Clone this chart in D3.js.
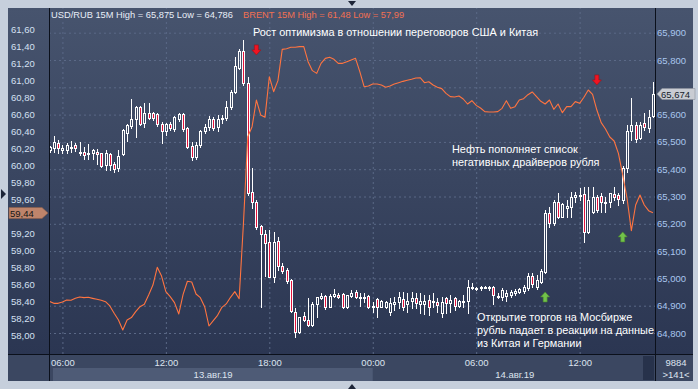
<!DOCTYPE html>
<html>
<head>
<meta charset="utf-8">
<script src="https://cdn.jsdelivr.net/npm/d3@7"></script>
<style>
  html, body { margin: 0; padding: 0; background: #c6cfdc; }
  svg { display: block; font-family: "Liberation Sans", Arial, sans-serif; }
</style>
</head>
<body>
<svg id="chart" width="698" height="389"></svg>
<script>
// ----- Data (15-minute bars, 13.08.2019 05:15 .. 14.08.2019 16:15) -----
const START = new Date(2019, 7, 13, 5, 15);
const STEP_MIN = 15;

const usdOpen = [
  65.469, 65.476, 65.495, 65.469, 65.470, 65.479, 65.487, 65.461, 65.462, 65.454,
  65.458, 65.462, 65.458, 65.414, 65.454, 65.419, 65.403, 65.457, 65.534, 65.558,
  65.583, 65.627, 65.568, 65.605, 65.605, 65.602, 65.566, 65.539, 65.564, 65.546,
  65.583, 65.602, 65.550, 65.485, 65.446, 65.489, 65.540, 65.553, 65.585, 65.553,
  65.583, 65.586, 65.627, 65.684, 65.770, 65.834, 65.715, 65.315, 65.279, 65.191,
  65.161, 65.135, 65.006, 65.138, 65.047, 65.031, 64.994, 64.878, 64.805, 64.864,
  64.848, 64.829, 64.906, 64.929, 64.937, 64.896, 64.935, 64.939, 64.943, 64.894,
  64.935, 64.949, 64.933, 64.931, 64.937, 64.896, 64.925, 64.896, 64.897, 64.878,
  64.906, 64.915, 64.923, 64.906, 64.917, 64.927, 64.906, 64.906, 64.921, 64.912,
  64.915, 64.872, 64.927, 64.909, 64.927, 64.899, 64.917, 64.918, 64.964, 64.966,
  64.964, 64.970, 64.970, 64.970, 64.933, 64.933, 64.935, 64.940, 64.948, 64.952,
  64.955, 64.964, 65.009, 64.970, 64.988, 65.025, 65.241, 65.202, 65.281, 65.226,
  65.257, 65.263, 65.297, 65.304, 65.308, 65.171, 65.244, 65.299, 65.302, 65.281,
  65.281, 65.308, 65.304, 65.287, 65.403, 65.541, 65.562, 65.513, 65.570, 65.550,
  65.595
];
const usdHigh = [
  65.485, 65.522, 65.507, 65.489, 65.495, 65.502, 65.495, 65.498, 65.480, 65.492,
  65.475, 65.473, 65.461, 65.470, 65.458, 65.428, 65.469, 65.547, 65.566, 65.656,
  65.632, 65.632, 65.644, 65.644, 65.611, 65.607, 65.573, 65.568, 65.574, 65.595,
  65.607, 65.607, 65.556, 65.501, 65.501, 65.542, 65.566, 65.596, 65.590, 65.597,
  65.599, 65.650, 65.690, 65.812, 65.839, 65.875, 65.739, 65.403, 65.287, 65.195,
  65.177, 65.177, 65.171, 65.150, 65.056, 65.037, 64.997, 64.890, 64.860, 64.876,
  64.927, 64.915, 64.933, 64.945, 64.939, 64.943, 64.960, 64.945, 64.945, 64.941,
  64.957, 64.957, 64.948, 64.945, 64.939, 64.915, 64.927, 64.921, 64.918, 64.927,
  64.933, 64.951, 64.951, 64.945, 64.951, 64.945, 64.945, 64.939, 64.939, 64.945,
  64.927, 64.933, 64.933, 64.939, 64.933, 64.921, 64.939, 64.994, 64.982, 64.970,
  64.972, 64.972, 64.972, 64.972, 64.945, 64.966, 64.958, 64.958, 64.962, 64.966,
  64.976, 65.019, 65.019, 65.012, 65.033, 65.251, 65.263, 65.287, 65.312, 65.277,
  65.287, 65.318, 65.318, 65.330, 65.336, 65.336, 65.336, 65.305, 65.312, 65.299,
  65.314, 65.336, 65.312, 65.412, 65.562, 65.660, 65.574, 65.574, 65.605, 65.617,
  65.721
];
const usdLow = [
  65.464, 65.464, 65.458, 65.458, 65.461, 65.464, 65.468, 65.452, 65.439, 65.437,
  65.436, 65.420, 65.407, 65.397, 65.397, 65.389, 65.393, 65.452, 65.505, 65.550,
  65.519, 65.562, 65.556, 65.583, 65.580, 65.559, 65.497, 65.525, 65.544, 65.541,
  65.578, 65.541, 65.478, 65.434, 65.439, 65.483, 65.534, 65.544, 65.544, 65.539,
  65.570, 65.580, 65.622, 65.678, 65.766, 65.708, 65.306, 65.257, 65.180, 64.894,
  65.009, 65.004, 64.988, 65.031, 65.021, 64.982, 64.877, 64.786, 64.801, 64.845,
  64.827, 64.827, 64.860, 64.923, 64.887, 64.894, 64.931, 64.927, 64.892, 64.892,
  64.933, 64.927, 64.899, 64.915, 64.890, 64.878, 64.857, 64.894, 64.890, 64.866,
  64.884, 64.890, 64.884, 64.878, 64.890, 64.890, 64.872, 64.870, 64.866, 64.897,
  64.878, 64.860, 64.872, 64.878, 64.884, 64.894, 64.897, 64.874, 64.960, 64.958,
  64.958, 64.964, 64.958, 64.906, 64.927, 64.921, 64.918, 64.931, 64.940, 64.945,
  64.945, 64.958, 64.970, 64.960, 64.984, 65.021, 65.189, 65.196, 65.220, 65.224,
  65.226, 65.226, 65.281, 65.287, 65.135, 65.165, 65.238, 65.244, 65.244, 65.244,
  65.263, 65.287, 65.269, 65.275, 65.391, 65.507, 65.501, 65.509, 65.544, 65.537,
  65.590
];
const usdClose = [
  65.480, 65.498, 65.478, 65.479, 65.487, 65.480, 65.476, 65.463, 65.451, 65.459,
  65.470, 65.456, 65.412, 65.458, 65.417, 65.402, 65.450, 65.542, 65.561, 65.585,
  65.628, 65.567, 65.605, 65.589, 65.588, 65.564, 65.539, 65.566, 65.550, 65.590,
  65.602, 65.547, 65.483, 65.446, 65.489, 65.540, 65.556, 65.585, 65.550, 65.585,
  65.587, 65.627, 65.684, 65.778, 65.834, 65.715, 65.312, 65.279, 65.187, 65.161,
  65.131, 65.006, 65.135, 65.047, 65.028, 64.992, 64.882, 64.805, 64.857, 64.848,
  64.829, 64.906, 64.933, 64.935, 64.896, 64.937, 64.943, 64.933, 64.894, 64.939,
  64.945, 64.931, 64.931, 64.933, 64.894, 64.899, 64.896, 64.917, 64.915, 64.909,
  64.915, 64.933, 64.894, 64.918, 64.929, 64.911, 64.918, 64.918, 64.897, 64.918,
  64.903, 64.915, 64.911, 64.921, 64.899, 64.918, 64.918, 64.970, 64.970, 64.961,
  64.970, 64.966, 64.964, 64.939, 64.937, 64.958, 64.945, 64.951, 64.955, 64.960,
  64.970, 65.009, 64.979, 64.994, 65.028, 65.241, 65.202, 65.281, 65.226, 65.273,
  65.266, 65.299, 65.305, 65.306, 65.171, 65.287, 65.299, 65.251, 65.281, 65.277,
  65.312, 65.299, 65.290, 65.403, 65.541, 65.562, 65.509, 65.562, 65.556, 65.592,
  65.674
];
const brent = [
  58.397, 58.373, 58.373, 58.389, 58.413, 58.409, 58.432, 58.448, 58.440, 58.444,
  58.432, 58.421, 58.409, 58.393, 58.342, 58.256, 58.177, 58.059, 58.177, 58.205,
  58.275, 58.334, 58.362, 58.472, 58.589, 58.798, 58.695, 58.511, 58.452, 58.381,
  58.248, 58.479, 58.633, 58.625, 58.483, 58.440, 58.334, 58.106, 58.169, 58.232,
  58.326, 58.366, 58.444, 58.511, 58.428, 59.316, 60.337, 60.455, 60.769, 60.593,
  60.565, 61.044, 60.867, 60.997, 61.366, 61.374, 61.390, 61.390, 61.398, 61.398,
  61.221, 61.115, 61.083, 61.201, 61.260, 61.272, 61.249, 61.201, 61.201, 61.221,
  61.240, 61.260, 61.103, 60.926, 60.934, 60.958, 60.958, 60.946, 60.919, 60.934,
  60.958, 60.973, 60.989, 61.001, 61.013, 61.029, 61.032, 60.973, 60.985, 60.946,
  60.919, 60.903, 60.848, 60.809, 60.805, 60.816, 60.781, 60.722, 60.761, 60.706,
  60.675, 60.632, 60.628, 60.628, 60.632, 60.671, 60.761, 60.671, 60.691, 60.769,
  60.785, 60.832, 60.864, 60.809, 60.754, 60.722, 60.769, 60.659, 60.722, 60.620,
  60.691, 60.691, 60.750, 60.730, 60.801, 60.887, 60.836, 60.651, 60.502, 60.428,
  60.333, 60.286, 60.141, 59.886, 59.611, 59.230, 59.532, 59.650, 59.532, 59.465,
  59.440
];

const usdTicks = [65.9, 65.8, 65.7, 65.6, 65.5, 65.4, 65.3, 65.2, 65.1, 65.0, 64.9, 64.8];
const brentTicks = [61.6, 61.4, 61.2, 61.0, 60.8, 60.6, 60.4, 60.2, 60.0, 59.8, 59.6, 59.4,
                    59.2, 59.0, 58.8, 58.6, 58.4, 58.2, 58.0];
const dayLabels = ["13.авг.19", "14.авг.19"];
const headerUsd = "USD/RUB 15M High = 65,875 Low = 64,786";
const headerBrent = "BRENT 15M High = 61,48 Low = 57,99";
const lastUsd = 65.674;
const lastBrent = 59.44;
const barCount = "9884";
const visibleBars = ">141<";

// annotation arrows: bar index + USD/RUB level they sit at
const downArrows = [{ i: 48, v: 65.837 }, { i: 127, v: 65.727 }];
const upArrows = [{ i: 115, v: 64.932 }, { i: 133, v: 65.152 }];

const notes = [
  { x: 253, y: 36, lines: ["Рост оптимизма в отношении переговоров США и Китая"] },
  { x: 452, y: 153, lines: ["Нефть пополняет список", "негативных драйверов рубля"] },
  { x: 477, y: 321, lines: ["Открытие торгов на Мосбирже", "рубль падает в реакции на данные", "из Китая и Германии"] }
];

// ----- Layout -----
const PANEL = { left: 8, top: 8, right: 693, bottom: 381 };
const PLOT = { left: 49, right: 655, top: 8, bottom: 354 };
const fmtComma = (v, d) => v.toFixed(d).replace(".", ",");

const svg = d3.select("#chart");
const defs = svg.append("defs");

const grad = defs.append("linearGradient")
  .attr("id", "bg").attr("x1", 0).attr("y1", 0).attr("x2", 0).attr("y2", 1);
grad.append("stop").attr("offset", "0%").attr("stop-color", "#47546e");
grad.append("stop").attr("offset", "100%").attr("stop-color", "#2b3652");

defs.append("clipPath").attr("id", "plotClip")
  .append("rect")
  .attr("x", PLOT.left + 1).attr("y", PLOT.top)
  .attr("width", PLOT.right - PLOT.left - 1).attr("height", PLOT.bottom - PLOT.top);

// panel background
svg.append("rect")
  .attr("x", PANEL.left).attr("y", PANEL.top)
  .attr("width", PANEL.right - PANEL.left).attr("height", PLOT.bottom - PANEL.top)
  .attr("fill", "url(#bg)");
svg.append("rect")
  .attr("x", PANEL.left).attr("y", PLOT.bottom)
  .attr("width", PANEL.right - PANEL.left).attr("height", PANEL.bottom - PLOT.bottom)
  .attr("fill", "#3b4761");

// ----- Scales -----
const times = usdClose.map((_, i) => d3.timeMinute.offset(START, i * STEP_MIN));
const x = d3.scaleTime()
  .domain([times[0], times[times.length - 1]])
  .range([49.5, 652.9]);

const usdY = d3.scaleLinear().domain([64.8, 65.9]).range([333, 32.7]);
const brentY = d3.scaleLinear().domain([58.0, 61.6]).range([335, 29.5]);

// ----- Grid -----
const gridColor = "#5b6987";
const hGrid = svg.append("g")
  .attr("transform", `translate(${PLOT.left},0)`)
  .call(d3.axisRight(usdY).tickValues(usdTicks).tickSize(PLOT.right - PLOT.left).tickFormat(""));
hGrid.select(".domain").remove();
hGrid.selectAll("line")
  .attr("stroke", gridColor).attr("stroke-dasharray", "2,3");

const hourTicks = x.ticks(d3.timeHour.every(6));
const vGrid = svg.append("g")
  .attr("transform", `translate(0,${PLOT.bottom})`)
  .call(d3.axisBottom(x).tickValues(hourTicks).tickSize(-(PLOT.bottom - PLOT.top)).tickFormat(""));
vGrid.select(".domain").remove();
vGrid.selectAll("line").attr("stroke", gridColor).attr("stroke-dasharray", "2,3");

// ----- Candles (USD/RUB, right scale) -----
const plot = svg.append("g").attr("clip-path", "url(#plotClip)");
const bars = usdClose.map((c, i) => ({
  t: times[i], o: usdOpen[i], h: usdHigh[i], l: usdLow[i], c
}));

plot.append("g").selectAll("g")
  .data(bars)
  .join("g")
  .each(function (d) {
    const g = d3.select(this);
    const cx = Math.round(x(d.t));
    const top = Math.round(usdY(Math.max(d.o, d.c)));
    const bot = Math.round(usdY(Math.min(d.o, d.c)));
    const hi = Math.round(usdY(d.h));
    const lo = Math.round(usdY(d.l));
    if (hi < top) {
      g.append("line").attr("x1", cx + 0.5).attr("x2", cx + 0.5)
        .attr("y1", hi).attr("y2", top).attr("stroke", "#ffffff");
    }
    if (lo > bot) {
      g.append("line").attr("x1", cx + 0.5).attr("x2", cx + 0.5)
        .attr("y1", bot + 1).attr("y2", lo + 1).attr("stroke", "#ffffff");
    }
    g.append("rect")
      .attr("x", cx - 0.5).attr("width", 2)
      .attr("y", top + 0.5).attr("height", Math.max(bot - top, 1))
      .attr("fill", d.c < d.o ? "#e3123c" : "none")
      .attr("stroke", "#ffffff").attr("stroke-width", 1);
  });

// ----- Brent line (left scale) -----
const line = d3.line()
  .x((d, i) => x(times[i]))
  .y(d => brentY(d));

plot.append("path")
  .datum(brent)
  .attr("d", line)
  .attr("fill", "none")
  .attr("stroke", "#ff7440")
  .attr("stroke-width", 1.1)
  .attr("stroke-linejoin", "round");

// ----- Arrows -----
const arrowDown = "M-2,-5 L2,-5 L2,0 L4.5,0 L0,5 L-4.5,0 L-2,0 Z";
const arrowUp = "M-2,5 L2,5 L2,0 L4.5,0 L0,-5 L-4.5,0 L-2,0 Z";
plot.append("g").selectAll("path")
  .data(downArrows).join("path")
  .attr("d", arrowDown)
  .attr("transform", d => `translate(${x(times[d.i])},${usdY(d.v)})`)
  .attr("fill", "#f01422").attr("stroke", "#a0101a").attr("stroke-width", 0.6);
plot.append("g").selectAll("path")
  .data(upArrows).join("path")
  .attr("d", arrowUp)
  .attr("transform", d => `translate(${x(times[d.i])},${usdY(d.v)})`)
  .attr("fill", "#72c24a").attr("stroke", "#4a8a2e").attr("stroke-width", 0.6);

// ----- Header -----
svg.append("text").attr("x", 51).attr("y", 17.5)
  .attr("fill", "#e8eef8").attr("font-size", 9.3).text(headerUsd);
svg.append("text").attr("x", 243).attr("y", 17.5)
  .attr("fill", "#f27052").attr("font-size", 9.3).text(headerBrent);

// ----- Notes -----
const noteG = svg.append("g").attr("fill", "#ffffff").attr("font-size", 10.9);
notes.forEach(n => {
  n.lines.forEach((s, k) => {
    noteG.append("text").attr("x", n.x).attr("y", n.y + k * 13).text(s);
  });
});

// ----- Axes -----
// the last-value tags sit on top of the tick labels they cover
const byTag = brentY(lastBrent);
const uyTag = usdY(lastUsd);

const leftAxis = svg.append("g")
  .attr("transform", "translate(11,0)")
  .call(d3.axisRight(brentY)
    .tickValues(brentTicks.filter(v => Math.abs(brentY(v) - byTag) > 8))
    .tickSize(0).tickPadding(0)
    .tickFormat(d => fmtComma(d, 2)));
leftAxis.select(".domain").remove();
leftAxis.selectAll("text").attr("fill", "#d4e0f2").attr("font-size", 9.5)
  .attr("font-family", "Liberation Sans, Arial, sans-serif");

const rightAxis = svg.append("g")
  .attr("transform", "translate(657,0)")
  .call(d3.axisRight(usdY)
    .tickValues(usdTicks.filter(v => Math.abs(usdY(v) - uyTag) > 8))
    .tickSize(0).tickPadding(0)
    .tickFormat(d => fmtComma(d, 3)));
rightAxis.select(".domain").remove();
rightAxis.selectAll("text").attr("fill", "#a9c6ee").attr("font-size", 9.5)
  .attr("font-family", "Liberation Sans, Arial, sans-serif");

// date band for first day
const dayStarts = [times[0], d3.timeDay.ceil(times[0])];
const dayEnds = [dayStarts[1], times[times.length - 1]];
svg.append("rect")
  .attr("x", 53).attr("y", 368)
  .attr("width", x(dayStarts[1]) - 53).attr("height", 13)
  .attr("fill", "#4e5b76");

const timeAxis = svg.append("g")
  .attr("transform", `translate(0,${PLOT.bottom})`)
  .call(d3.axisBottom(x).tickValues(hourTicks).tickSize(0).tickPadding(5)
    .tickFormat(d3.timeFormat("%H:%M")));
timeAxis.select(".domain").remove();
timeAxis.selectAll("text").attr("fill", "#dde4ef").attr("font-size", 9.5)
  .attr("font-family", "Liberation Sans, Arial, sans-serif");

svg.append("g").selectAll("text")
  .data(dayLabels).join("text")
  .attr("x", (d, k) => (Math.max(x(dayStarts[k]), PLOT.left) + Math.min(x(dayEnds[k]), PLOT.right)) / 2 + 2)
  .attr("y", 377.5)
  .attr("text-anchor", "middle")
  .attr("fill", "#dde4ef").attr("font-size", 9.5)
  .text(d => d);

// scroll thumb
svg.append("rect").attr("x", 643).attr("y", 356).attr("width", 11).attr("height", 24)
  .attr("fill", "#27324b");

// bar counters
svg.append("text").attr("x", 676).attr("y", 365.5).attr("text-anchor", "middle")
  .attr("fill", "#dde4ef").attr("font-size", 9.5).text(barCount);
svg.append("text").attr("x", 676).attr("y", 377.5).attr("text-anchor", "middle")
  .attr("fill", "#dde4ef").attr("font-size", 9.5).text(visibleBars);

// separators
const sep = svg.append("g").attr("stroke", "#0b101b").attr("stroke-width", 1);
sep.append("line").attr("x1", PLOT.left + 0.5).attr("x2", PLOT.left + 0.5)
  .attr("y1", PANEL.top).attr("y2", PANEL.bottom);
sep.append("line").attr("x1", PLOT.right + 0.5).attr("x2", PLOT.right + 0.5)
  .attr("y1", PANEL.top).attr("y2", PANEL.bottom);
sep.append("line").attr("x1", PANEL.left).attr("x2", PANEL.right)
  .attr("y1", PLOT.bottom + 0.5).attr("y2", PLOT.bottom + 0.5);

// ----- Last value tags -----
const by = Math.round(byTag);
svg.append("path")
  .attr("d", `M9,${by - 5.5} L42,${by - 5.5} L48,${by} L42,${by + 5.5} L9,${by + 5.5} Z`)
  .attr("fill", "#be846b").attr("stroke", "#8c5e4a").attr("stroke-width", 0.6);
svg.append("text").attr("x", 10).attr("y", by + 3.5)
  .attr("fill", "#161616").attr("font-size", 9.5).text(fmtComma(lastBrent, 2));

const uy = Math.round(uyTag);
svg.append("path")
  .attr("d", `M657,${uy} L662,${uy - 5.5} L695,${uy - 5.5} L695,${uy + 5.5} L662,${uy + 5.5} Z`)
  .attr("fill", "#c9ccd3").attr("stroke", "#8d939e").attr("stroke-width", 0.6);
svg.append("text").attr("x", 661).attr("y", uy + 3.5)
  .attr("fill", "#161c2a").attr("font-size", 9.5).text(fmtComma(lastUsd, 3));

// ----- small scroll triangles on the frame -----
const tri = svg.append("g").attr("fill", "#1d2538");
tri.append("path").attr("d", "M348,1 L356,1 L352,6 Z");
tri.append("path").attr("d", "M348,389 L356,389 L352,384 Z");
tri.append("path").attr("d", "M1,189 L6,194 L1,199 Z");
</script>
</body>
</html>
